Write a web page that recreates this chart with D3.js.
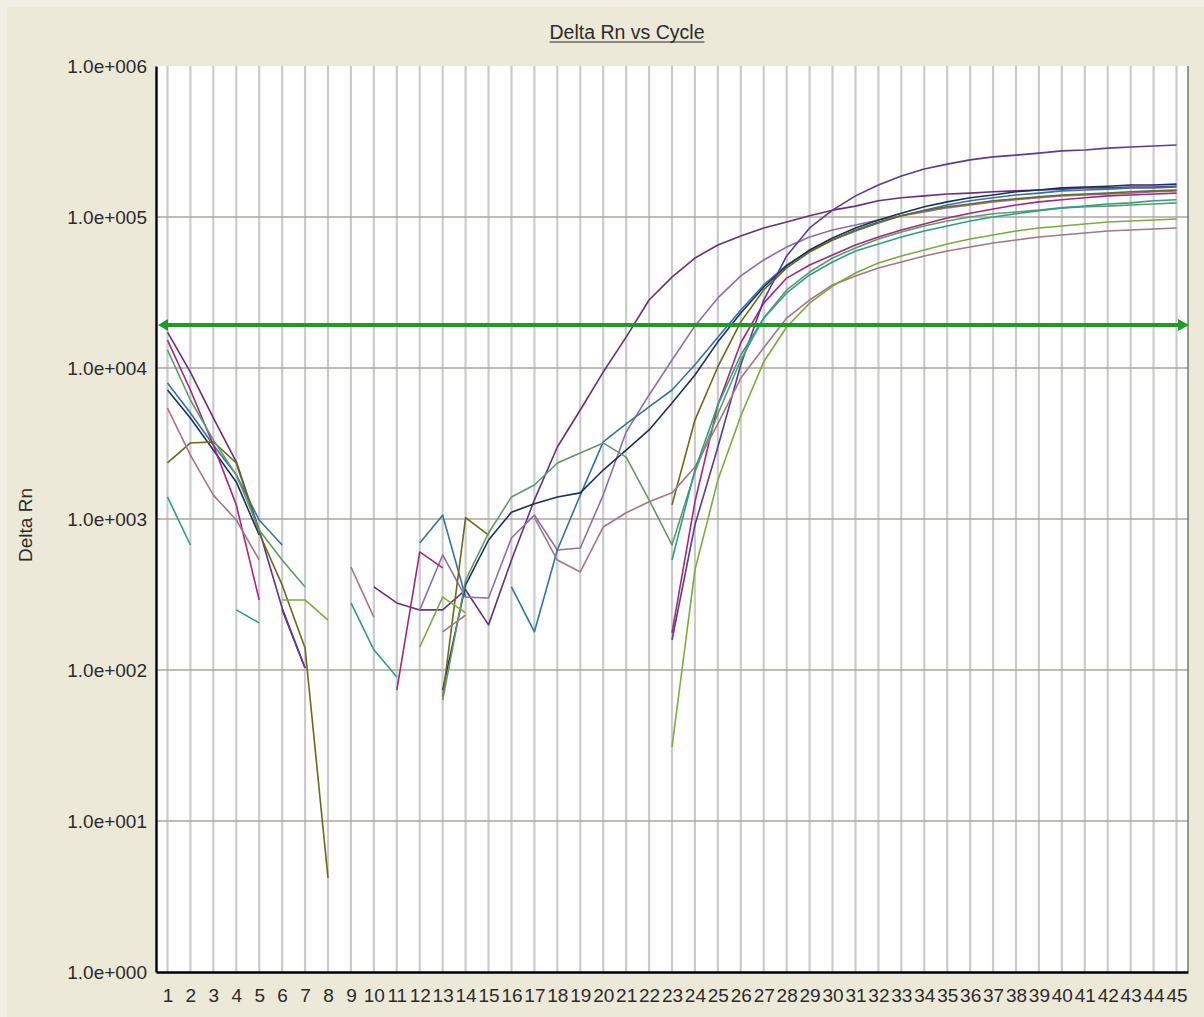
<!DOCTYPE html>
<html>
<head>
<meta charset="utf-8">
<script src="https://cdn.jsdelivr.net/npm/d3@7"></script>
<style>
  html, body { margin: 0; padding: 0; background: #ECE9D8; }
  svg { display: block; }
  text { font-family: "Liberation Sans", Arial, sans-serif; fill: #2b2b2b; }
</style>
</head>
<body>
<svg id="chart" width="1204" height="1017"></svg>
<script>
// ---- data -------------------------------------------------------------
const cycles = d3.range(1, 46);
const cycleLabels = cycles.map(String);
const yTickValues = [1, 10, 100, 1e3, 1e4, 1e5, 1e6];
const yTickLabels = ["1.0e+000", "1.0e+001", "1.0e+002", "1.0e+003", "1.0e+004", "1.0e+005", "1.0e+006"];
const threshold = 1.93e4;

// Delta Rn per cycle (1..45) for each well; null = not plotted (value <= 0)
const wellA1 = [1.73e4, 9.4e3, 4.67e3, 2.39e3, 846, 257, 103, null, null, 355, 278, 250, 250, 339, 199, 535, 1.34e3, 3.0e3, 5.27e3, 9.4e3, 1.6e4, 2.82e4, 4.0e4, 5.35e4, 6.52e4, 7.48e4, 8.46e4, 9.27e4, 1.02e5, 1.11e5, 1.18e5, 1.28e5, 1.34e5, 1.38e5, 1.42e5, 1.44e5, 1.47e5, 1.49e5, 1.51e5, 1.53e5, 1.56e5, 1.56e5, 1.58e5, 1.58e5, 1.60e5];
const wellA2 = [null, null, null, null, null, null, null, null, null, null, null, 250, 578, 304, 300, 749, 1.06e3, 623, 643, 1.44e3, 3.77e3, 6.63e3, 1.13e4, 1.90e4, 2.91e4, 4.07e4, 5.19e4, 6.33e4, 7.37e4, 8.20e4, 8.85e4, 9.55e4, 1.02e5, 1.08e5, 1.15e5, 1.20e5, 1.26e5, 1.30e5, 1.34e5, 1.38e5, 1.40e5, 1.42e5, 1.44e5, 1.47e5, 1.49e5];
const wellA3 = [7.96e3, 5.04e3, 3.09e3, 1.96e3, 985, 673, null, null, null, null, null, 694, 1.06e3, 304, null, 355, 179, 623, 1.44e3, 3.24e3, 4.26e3, 5.52e3, 7.15e3, 1.05e4, 1.6e4, 2.42e4, 3.55e4, 4.81e4, 5.96e4, 7.04e4, 8.08e4, 9.13e4, 1.02e5, 1.11e5, 1.20e5, 1.28e5, 1.34e5, 1.40e5, 1.44e5, 1.49e5, 1.51e5, 1.53e5, 1.56e5, 1.56e5, 1.58e5];
const wellA4 = [7.15e3, 4.67e3, 2.86e3, 1.76e3, 783, null, null, null, null, null, null, null, 73.7, 366, 726, 1.11e3, 1.26e3, 1.40e3, 1.49e3, 2.11e3, 2.86e3, 3.89e3, 5.86e3, 8.99e3, 1.49e4, 2.31e4, 3.44e4, 4.74e4, 6.05e4, 7.26e4, 8.46e4, 9.55e4, 1.06e5, 1.17e5, 1.26e5, 1.34e5, 1.40e5, 1.47e5, 1.51e5, 1.56e5, 1.58e5, 1.60e5, 1.63e5, 1.63e5, 1.65e5];
const wellB1 = [2.35e3, 3.19e3, 3.24e3, 2.35e3, 808, 366, 140, 4.2, null, null, null, null, 66.3, 1.02e3, 783, null, null, null, null, null, null, null, 1.24e3, 4.52e3, 1.02e4, 2.02e4, 3.29e4, 4.60e4, 5.86e4, 7.04e4, 8.20e4, 9.27e4, 1.02e5, 1.10e5, 1.17e5, 1.22e5, 1.28e5, 1.32e5, 1.36e5, 1.40e5, 1.42e5, 1.44e5, 1.47e5, 1.49e5, 1.51e5];
const wellB2 = [1.53e4, 7.15e3, 3.09e3, 1.24e3, 291, null, null, null, null, null, 73.7, 605, 474, null, null, null, null, null, null, null, null, null, 176, 1.30e3, 5.69e3, 1.47e4, 2.69e4, 3.94e4, 4.81e4, 5.60e4, 6.52e4, 7.37e4, 8.20e4, 8.99e4, 9.85e4, 1.06e5, 1.13e5, 1.20e5, 1.26e5, 1.30e5, 1.34e5, 1.38e5, 1.40e5, 1.42e5, 1.44e5];
const wellB3 = [null, null, null, null, null, 250, 103, null, null, null, null, null, null, null, null, null, null, null, null, null, null, null, 158, 913, 3.0e3, 1.05e4, 2.82e4, 5.52e4, 8.46e4, 1.11e5, 1.38e5, 1.63e5, 1.87e5, 2.08e5, 2.24e5, 2.39e5, 2.50e5, 2.57e5, 2.65e5, 2.74e5, 2.78e5, 2.86e5, 2.91e5, 2.95e5, 3.0e5];
const wellB4 = [1.32e4, 6.14e3, 3.34e3, 1.96e3, 846, 535, 355, null, null, null, null, null, 63.3, 394, 808, 1.40e3, 1.68e3, 2.35e3, 2.74e3, 3.19e3, 2.57e3, 1.34e3, 673, 2.05e3, 4.96e3, 1.13e4, 2.14e4, 3.29e4, 4.32e4, 5.35e4, 6.23e4, 7.15e4, 7.96e4, 8.72e4, 9.41e4, 1.0e5, 1.05e5, 1.08e5, 1.11e5, 1.15e5, 1.17e5, 1.18e5, 1.20e5, 1.22e5, 1.24e5];
const wellC1 = [5.43e3, 2.65e3, 1.44e3, 985, 535, null, null, null, 481, 224, null, null, 179, 231, null, null, 1.02e3, 535, 446, 885, 1.10e3, 1.30e3, 1.49e3, 2.21e3, 4.26e3, 8.58e3, 1.36e4, 2.14e4, 2.82e4, 3.55e4, 4.07e4, 4.60e4, 5.04e4, 5.52e4, 5.96e4, 6.33e4, 6.73e4, 7.04e4, 7.37e4, 7.60e4, 7.83e4, 8.08e4, 8.20e4, 8.33e4, 8.46e4];
const wellC2 = [null, null, null, null, null, 291, 291, 214, null, null, null, 142, 304, 239, null, null, null, null, null, null, null, null, 30.9, 460, 1.81e3, 4.81e3, 1.10e4, 1.87e4, 2.69e4, 3.49e4, 4.26e4, 4.96e4, 5.52e4, 6.05e4, 6.63e4, 7.15e4, 7.60e4, 8.08e4, 8.46e4, 8.72e4, 8.99e4, 9.27e4, 9.41e4, 9.55e4, 9.70e4];
const wellC3 = [1.40e3, 673, null, 250, 205, null, null, null, 278, 136, 89.9, null, null, null, null, null, null, null, null, null, null, null, 535, 2.11e3, 5.69e3, 1.22e4, 2.14e4, 3.14e4, 4.13e4, 5.04e4, 5.96e4, 6.63e4, 7.37e4, 8.08e4, 8.72e4, 9.41e4, 1.0e5, 1.05e5, 1.10e5, 1.15e5, 1.18e5, 1.22e5, 1.24e5, 1.28e5, 1.30e5];

const wells = [wellA1, wellA2, wellA3, wellA4, wellB1, wellB2, wellB3, wellB4, wellC1, wellC2, wellC3];
const wellColors = ["#6b2e7d", "#8c6fb0", "#2f74a8", "#1c2f5e", "#6a6a1a", "#a8267e", "#5b3a9c", "#5f9b66", "#a87486", "#7aac3c", "#2d9d8a"];

// ---- layout -----------------------------------------------------------
const W = 1204, H = 1017;
const plot = { left: 156, right: 1188, top: 66, bottom: 972 };

const x = d3.scaleLinear().domain([0.5, 45.5]).range([plot.left, plot.right]);
const y = d3.scaleLog().domain([1, 1e6]).range([plot.bottom, plot.top]);

const svg = d3.select("#chart");

svg.append("rect").attr("width", W).attr("height", H).attr("fill", "#ECE9D8");
// light bevel on the window edge
svg.append("rect").attr("x", 0).attr("y", 0).attr("width", W).attr("height", 7).attr("fill", "#F0EEE5");
svg.append("rect").attr("x", 0).attr("y", 0).attr("width", 7).attr("height", H).attr("fill", "#F0EEE5");

// plot background
svg.append("rect")
  .attr("x", plot.left).attr("y", plot.top)
  .attr("width", plot.right - plot.left).attr("height", plot.bottom - plot.top)
  .attr("fill", "#ffffff");

svg.append("clipPath").attr("id", "plot-clip")
  .append("rect")
  .attr("x", plot.left).attr("y", plot.top)
  .attr("width", plot.right - plot.left).attr("height", plot.bottom - plot.top);

// vertical grid, one line per cycle
svg.append("g")
  .selectAll("line")
  .data(cycles)
  .join("line")
  .attr("x1", d => x(d)).attr("x2", d => x(d))
  .attr("y1", plot.top).attr("y2", plot.bottom)
  .attr("stroke", "#cbcbcb").attr("stroke-width", 2.2);

// horizontal grid at each decade
svg.append("g")
  .selectAll("line")
  .data(yTickValues.filter(v => v > 1 && v < 1e6))
  .join("line")
  .attr("x1", plot.left).attr("x2", plot.right)
  .attr("y1", d => y(d)).attr("y2", d => y(d))
  .attr("stroke", "#aba79f").attr("stroke-width", 1.6);

// right border
svg.append("line")
  .attr("x1", plot.right).attr("x2", plot.right)
  .attr("y1", plot.top).attr("y2", plot.bottom)
  .attr("stroke", "#555").attr("stroke-width", 1.2);

// amplification curves
const line = d3.line()
  .defined(d => d.v != null && d.v > 0)
  .x(d => x(d.c))
  .y(d => y(d.v));

svg.append("g")
  .attr("clip-path", "url(#plot-clip)")
  .selectAll("path")
  .data(wells)
  .join("path")
  .attr("d", vals => line(vals.map((v, i) => ({ c: cycles[i], v }))))
  .attr("fill", "none")
  .attr("stroke", (d, i) => wellColors[i])
  .attr("stroke-width", 1.6)
  .attr("stroke-linejoin", "round");

// threshold line with end arrows
const ty = y(threshold);
const thr = svg.append("g").attr("fill", "#1f9a24").attr("stroke", "#1f9a24");
thr.append("line")
  .attr("x1", plot.left + 6).attr("x2", plot.right - 6)
  .attr("y1", ty).attr("y2", ty)
  .attr("stroke-width", 4);
thr.append("path")
  .attr("stroke", "none")
  .attr("d", `M${plot.left + 2},${ty} L${plot.left + 12},${ty - 6} L${plot.left + 12},${ty + 6} Z`);
thr.append("path")
  .attr("stroke", "none")
  .attr("d", `M${plot.right + 1},${ty} L${plot.right - 10},${ty - 6} L${plot.right - 10},${ty + 6} Z`);

// axes
const yAxis = d3.axisLeft(y)
  .tickValues(yTickValues)
  .tickFormat((d, i) => yTickLabels[i])
  .tickSize(0)
  .tickPadding(9);

const gy = svg.append("g")
  .attr("transform", `translate(${plot.left},0)`)
  .call(yAxis);
gy.select(".domain").attr("stroke", "#000").attr("stroke-width", 2.4);
gy.selectAll("text").attr("font-size", 19).attr("font-family", null).style("fill", "#2b2b2b");

const xAxis = d3.axisBottom(x)
  .tickValues(cycles)
  .tickFormat(d => cycleLabels[d - 1])
  .tickSize(0)
  .tickPadding(17);

const gx = svg.append("g")
  .attr("transform", `translate(0,${plot.bottom})`)
  .call(xAxis);
gx.select(".domain").attr("stroke", "#000").attr("stroke-width", 2.4);
gx.selectAll("text").attr("font-size", 19).attr("font-family", null).style("fill", "#2b2b2b");

// title (underlined)
const title = svg.append("text")
  .attr("x", 627).attr("y", 39)
  .attr("text-anchor", "middle")
  .attr("font-size", 19.5)
  .text("Delta Rn vs Cycle");
const tw = title.node().getComputedTextLength();
svg.append("line")
  .attr("x1", 627 - tw / 2).attr("x2", 627 + tw / 2)
  .attr("y1", 42).attr("y2", 42)
  .attr("stroke", "#2b2b2b").attr("stroke-width", 1);

// y-axis title
svg.append("text")
  .attr("transform", "translate(32,525) rotate(-90)")
  .attr("text-anchor", "middle")
  .attr("font-size", 19)
  .text("Delta Rn");
</script>
</body>
</html>
